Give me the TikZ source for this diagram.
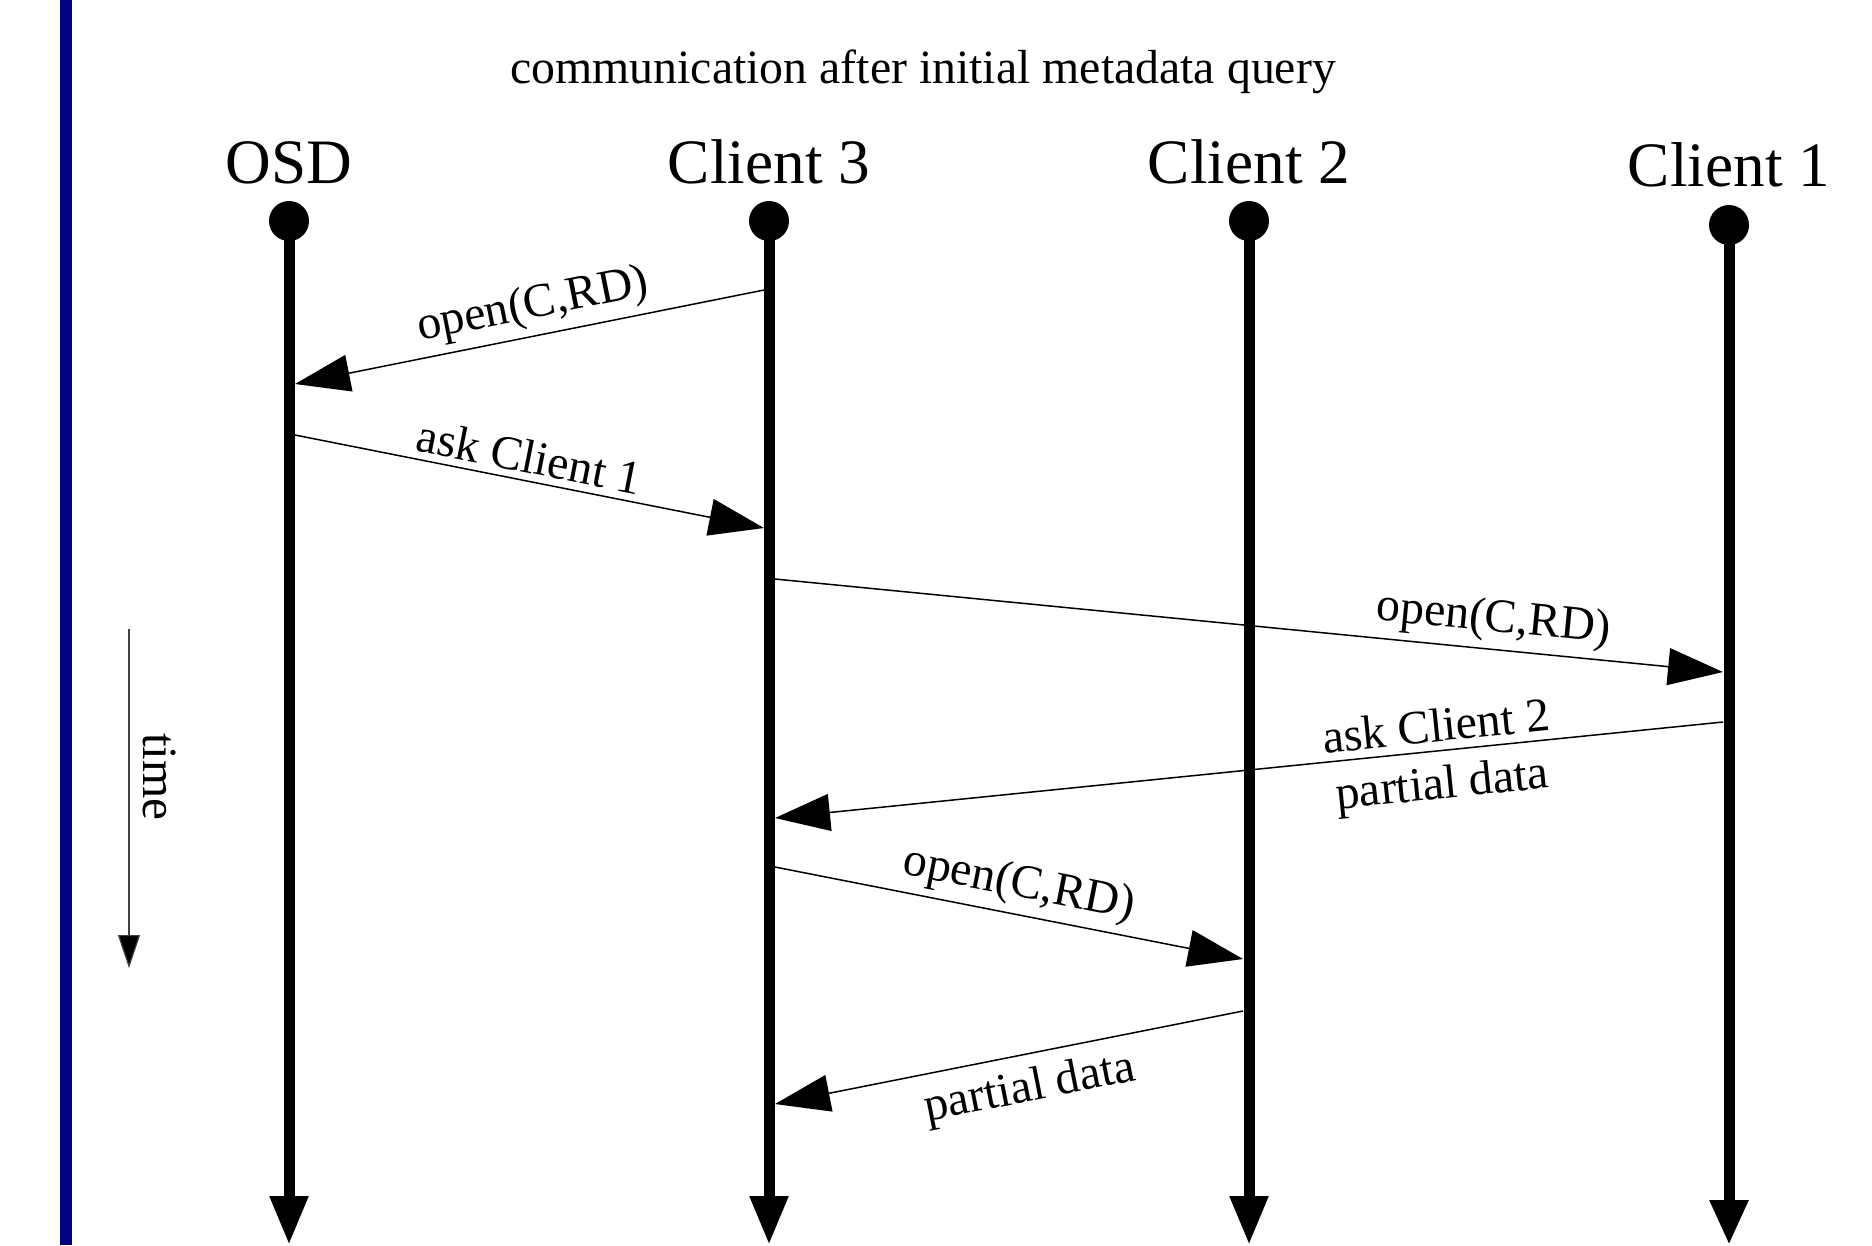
\documentclass[tikz,border=0pt]{standalone}
\usepackage{fontspec}
\setmainfont{Liberation Serif}
\usetikzlibrary{arrows.meta}
\definecolor{navyline}{RGB}{0,0,128}
\begin{document}
\begin{tikzpicture}[x=0.1mm,y=-0.1mm,
  lifeline/.style={line width=1.1mm, -{Triangle[length=4.9mm,width=3.6mm]}},
  msg/.style={line width=0.15mm, -{Triangle[length=5.5mm,width=3.7mm]}},
  lifedot/.style={circle, fill=black, inner sep=0pt, minimum size=4mm},
  actor/.style={anchor=base, font=\fontsize{18}{21}\selectfont, inner sep=0pt},
  mlabel/.style={font=\fontsize{13.6}{16}\selectfont, sloped, inner sep=0.7mm},
]
\useasboundingbox (0,0) rectangle (1872,1245);
\fill[white] (0,0) rectangle (1872,1245);
\coordinate (bluetop) at (66,0);
\coordinate (bluebot) at (66,1245);
\draw[navyline, line width=1.2mm] (bluetop) -- (bluebot);

\node[anchor=base, inner sep=0pt, font=\fontsize{13.6}{16}\selectfont] (title) at (923,83) {communication after initial metadata query};

% actors
\node[actor] (osdlab) at (289,183) {OSD};
\node[actor] (c3lab) at (769,183) {Client 3};
\node[actor] (c2lab) at (1249,183) {Client 2};
\node[actor] (c1lab) at (1729,186) {Client 1};

\node[lifedot] (osd) at (289,221) {};
\node[lifedot] (c3) at (769,221) {};
\node[lifedot] (c2) at (1249,221) {};
\node[lifedot] (c1) at (1729,225) {};
\coordinate (osdend) at (289,1245);
\coordinate (c3end) at (769,1245);
\coordinate (c2end) at (1249,1245);
\coordinate (c1end) at (1729,1245);
\draw[lifeline] (osd.center) -- (osdend);
\draw[lifeline] (c3.center) -- (c3end);
\draw[lifeline] (c2.center) -- (c2end);
\draw[lifeline,-{Triangle[length=4.5mm,width=3.6mm]}] (c1.center) -- (c1end);

% message end points
\coordinate (m1a) at (764,290);  \coordinate (m1b) at (295,384);
\coordinate (m2a) at (295,435);  \coordinate (m2b) at (764,528);
\coordinate (m3a) at (775,579);  \coordinate (m3b) at (1723,672);
\coordinate (m4a) at (1723,722); \coordinate (m4b) at (775,818);
\coordinate (m5a) at (775,867);  \coordinate (m5b) at (1243,959);
\coordinate (m6a) at (1243,1011); \coordinate (m6b) at (775,1104);

\draw[msg] (m1a) -- node[mlabel, pos=0.48, above] (l1) {open(C,RD)} (m1b);
\draw[msg] (m2a) -- node[mlabel, pos=0.49, above] (l2) {ask Client 1} (m2b);
\draw[msg] (m3a) -- node[mlabel, pos=0.755, above] (l3) {open(C,RD)} (m3b);
\draw[msg] (m4a) -- node[mlabel, pos=0.30, above, inner sep=0.3mm, yshift=0.5mm] (l4) {ask Client 2}
                    node[mlabel, pos=0.30, below, inner sep=0.3mm, yshift=-1.1mm] (l4b) {partial data} (m4b);
\draw[msg] (m5a) -- node[mlabel, pos=0.51, above] (l5) {open(C,RD)} (m5b);
\draw[msg] (m6a) -- node[mlabel, pos=0.47, below, yshift=-0.6mm] (l6) {partial data} (m6b);

% time arrow
\coordinate (t0) at (129,629);
\coordinate (t1) at (129,968);
\draw[line width=0.12mm, black!75, -{Triangle[length=3.3mm,width=2.2mm,fill=black]}] (t0) -- (t1);
\node[rotate=-90, inner sep=0pt, font=\fontsize{14}{16}\selectfont] (timelab) at (160,777) {time};
\end{tikzpicture}
\end{document}
